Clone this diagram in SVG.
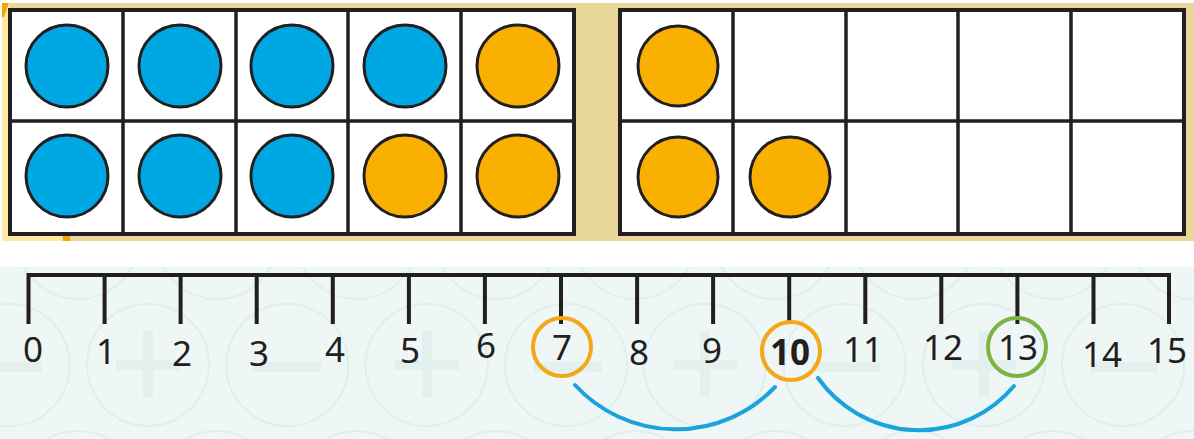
<svg xmlns="http://www.w3.org/2000/svg" width="1194" height="439" viewBox="0 0 1194 439">
<defs>
<style>
.grid{fill:#ffffff;stroke:#231f20;stroke-width:4}
.gl{stroke:#231f20;stroke-width:3.5;fill:none}
.blue{fill:#00a8e3;stroke:#231f20;stroke-width:3}
.orange{fill:#f9b000;stroke:#231f20;stroke-width:3}
.num{font-family:"Noto Sans","Open Sans",sans-serif;font-size:35px;fill:#231f20;text-anchor:middle}
.ring-o{fill:none;stroke:#f2a81a;stroke-width:4}
.ring-g{fill:none;stroke:#7bb443;stroke-width:4}
.jump{fill:none;stroke:#1aa3dc;stroke-width:4;stroke-linecap:round}
.pc{fill:none;stroke:#e0eeec;stroke-width:2}
.ps{fill:#e4f0ee}
</style>
<clipPath id="bgclip"><rect x="0" y="267" width="1194" height="172"/></clipPath>
</defs>

<g id="frame-background">
<rect x="2" y="3" width="1192" height="238" fill="#e8d798"/>
<rect x="2" y="3" width="8" height="238" fill="#fde9a3"/>
<rect x="2" y="234" width="60" height="7" fill="#fde9a3"/>
<polygon points="2,3 9,3 4,17 2,17" fill="#f7a600"/>
<rect x="63" y="235" width="7" height="6" fill="#f7a600"/>
</g>

<g id="ten-frame-left">
<rect class="grid" x="10" y="10" width="564" height="224"/>
<path class="gl" d="M123,10V234M236,10V234M348,10V234M461,10V234M10,121H574"/>
<circle class="blue" cx="67" cy="66" r="41"/>
<circle class="blue" cx="180" cy="66" r="41"/>
<circle class="blue" cx="292" cy="66" r="41"/>
<circle class="blue" cx="405" cy="66" r="41"/>
<circle class="orange" cx="518" cy="66" r="41"/>
<circle class="blue" cx="67" cy="176" r="41"/>
<circle class="blue" cx="180" cy="176" r="41"/>
<circle class="blue" cx="292" cy="176" r="41"/>
<circle class="orange" cx="405" cy="176" r="41"/>
<circle class="orange" cx="518" cy="176" r="41"/>
</g>

<g id="ten-frame-right">
<rect class="grid" x="620" y="10" width="564" height="224"/>
<path class="gl" d="M733,10V234M846,10V234M958,10V234M1071,10V234M620,121H1184"/>
<circle class="orange" cx="678" cy="66" r="40"/>
<circle class="orange" cx="678" cy="177" r="40"/>
<circle class="orange" cx="790" cy="177" r="40"/>
</g>

<g id="number-line-background">
<rect x="0" y="267" width="1194" height="172" fill="#eff6f6"/>
<g clip-path="url(#bgclip)">
<g id="pattern-row-mid">
<circle class="pc" cx="8.7" cy="365" r="61"/>
<circle class="pc" cx="148" cy="365" r="61"/>
<circle class="pc" cx="287.3" cy="365" r="61"/>
<circle class="pc" cx="426.6" cy="365" r="61"/>
<circle class="pc" cx="566" cy="365" r="61"/>
<circle class="pc" cx="705" cy="365" r="61"/>
<circle class="pc" cx="844.6" cy="365" r="61"/>
<circle class="pc" cx="984" cy="365" r="61"/>
<circle class="pc" cx="1123" cy="365" r="61"/>
</g>
<g id="pattern-row-top">
<circle class="pc" cx="78" cy="238" r="61"/>
<circle class="pc" cx="217" cy="238" r="61"/>
<circle class="pc" cx="357" cy="238" r="61"/>
<circle class="pc" cx="496" cy="238" r="61"/>
<circle class="pc" cx="635" cy="238" r="61"/>
<circle class="pc" cx="775" cy="238" r="61"/>
<circle class="pc" cx="914" cy="238" r="61"/>
<circle class="pc" cx="1053" cy="238" r="61"/>
<circle class="pc" cx="1193" cy="238" r="61"/>
</g>
<g id="pattern-row-bottom">
<circle class="pc" cx="78" cy="492" r="61"/>
<circle class="pc" cx="217" cy="492" r="61"/>
<circle class="pc" cx="357" cy="492" r="61"/>
<circle class="pc" cx="496" cy="492" r="61"/>
<circle class="pc" cx="635" cy="492" r="61"/>
<circle class="pc" cx="775" cy="492" r="61"/>
<circle class="pc" cx="914" cy="492" r="61"/>
<circle class="pc" cx="1053" cy="492" r="61"/>
<circle class="pc" cx="1193" cy="492" r="61"/>
</g>
<g id="pattern-signs">
<rect class="ps" x="-26" y="362" width="68" height="10"/>
<rect class="ps" x="116" y="360" width="64" height="10"/><rect class="ps" x="143" y="331" width="10" height="66"/>
<rect class="ps" x="253" y="362" width="68" height="10"/>
<rect class="ps" x="395" y="360" width="64" height="10"/><rect class="ps" x="422" y="331" width="10" height="66"/>
<rect class="ps" x="534" y="362" width="68" height="10"/>
<rect class="ps" x="673" y="360" width="64" height="10"/><rect class="ps" x="700" y="331" width="10" height="66"/>
<rect class="ps" x="812" y="362" width="68" height="10"/>
<rect class="ps" x="952" y="360" width="64" height="10"/><rect class="ps" x="979" y="331" width="10" height="66"/>
<rect class="ps" x="1090" y="362" width="68" height="10"/>
</g>
</g>
</g>

<g id="number-line">
<path fill="none" stroke="#231f20" stroke-width="4" stroke-linejoin="miter" d="M28.5,324V275H1169V324"/>
<path fill="none" stroke="#231f20" stroke-width="4" d="M104.6,275V324M180.6,275V324M256.7,275V324M332.8,275V324M408.9,275V324M484.9,275V324M561,275V324M637.1,275V324M713.1,275V324M789.2,275V324M865.3,275V324M941.3,275V324M1017.4,275V324M1093.5,275V324"/>
</g>

<g id="labels">
<text class="num" x="33" y="362">0</text>
<text class="num" x="106" y="364">1</text>
<text class="num" x="182" y="366">2</text>
<text class="num" x="259" y="366">3</text>
<text class="num" x="335" y="362">4</text>
<text class="num" x="410" y="363">5</text>
<text class="num" x="486" y="358">6</text>
<text class="num" x="562" y="360">7</text>
<text class="num" x="639" y="365">8</text>
<text class="num" x="712" y="363">9</text>
<text class="num" x="790" y="365" font-weight="bold">10</text>
<text class="num" x="863" y="362">11</text>
<text class="num" x="943" y="360">12</text>
<text class="num" x="1018" y="360">13</text>
<text class="num" x="1102" y="367">14</text>
<text class="num" x="1167" y="363">15</text>
</g>

<g id="node-7"><circle class="ring-o" cx="562" cy="347" r="29"/></g>
<g id="node-10"><circle class="ring-o" cx="791" cy="351" r="29"/></g>
<g id="node-13"><circle class="ring-g" cx="1017" cy="347" r="29"/></g>

<g id="connectors">
<path class="jump" d="M575,385A137,137 0 0 0 775,387"/>
<path class="jump" d="M818,378A124,124 0 0 0 1014,386"/>
</g>
</svg>
